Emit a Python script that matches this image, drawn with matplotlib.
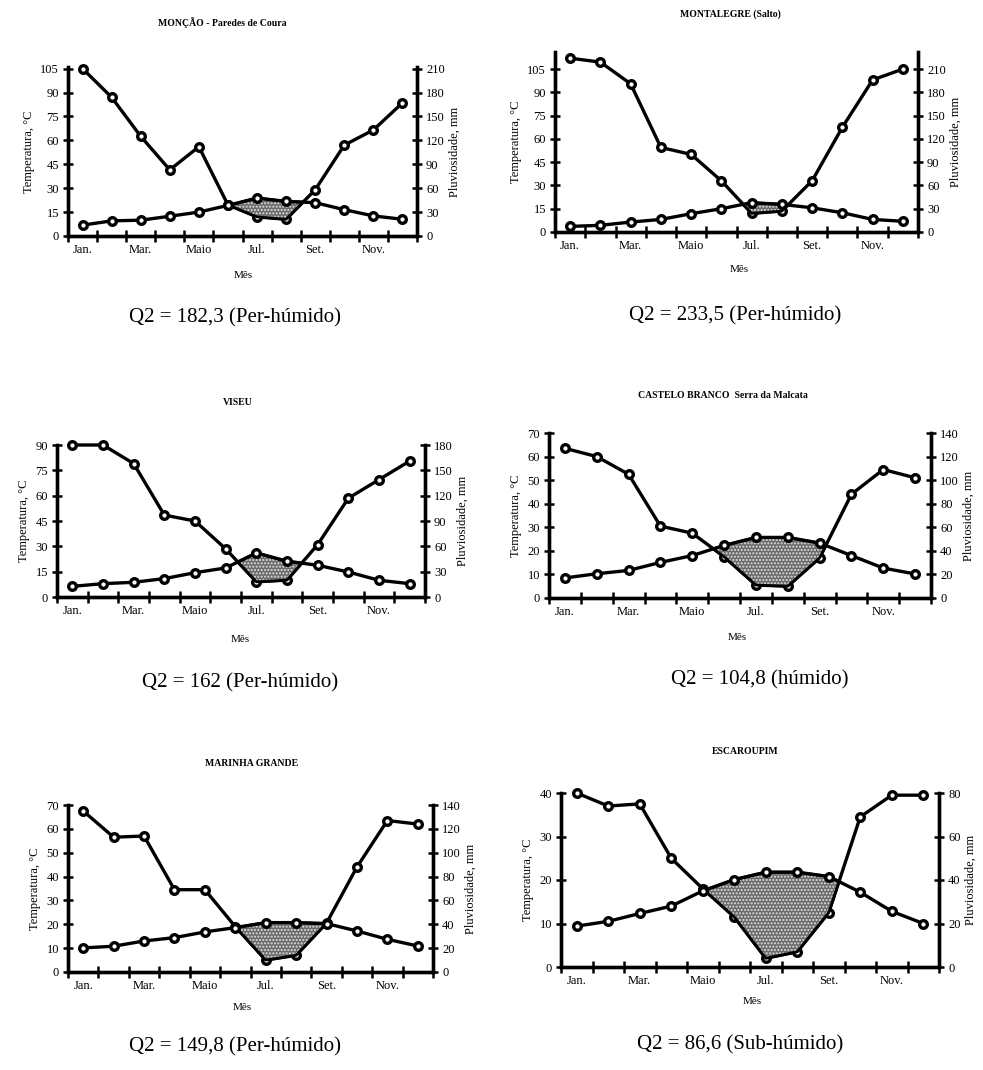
import numpy as np
import matplotlib
matplotlib.use('Agg')
import matplotlib.pyplot as plt

plt.rcParams['font.family'] = ['Liberation Serif', 'DejaVu Serif']
plt.rcParams['hatch.linewidth'] = 1.0

W, H = 983, 1070

meses = ['Jan.', 'Fev.', 'Mar.', 'Abr.', 'Maio', 'Jun.', 'Jul.', 'Ago.', 'Set.', 'Out.', 'Nov.', 'Dez.']

# estações
nomes = ['MONÇÃO - Paredes de Coura', 'MONTALEGRE (Salto)', 'VISEU',
         'CASTELO BRANCO  Serra da Malcata', 'MARINHA GRANDE', 'ESCAROUPIM']
q2_textos = ['Q2 = 182,3 (Per-húmido)', 'Q2 = 233,5 (Per-húmido)', 'Q2 = 162 (Per-húmido)',
             'Q2 = 104,8 (húmido)', 'Q2 = 149,8 (Per-húmido)', 'Q2 = 86,6 (Sub-húmido)']

# temperatura média mensal (ºC)
t_moncao = [6.8, 9.5, 9.9, 12.4, 15.0, 19.2, 23.8, 21.7, 20.9, 16.5, 12.6, 10.5]
t_montalegre = [3.6, 4.3, 6.4, 8.1, 11.8, 15.0, 18.9, 17.8, 15.6, 12.4, 8.1, 6.9]
t_viseu = [6.3, 7.9, 8.7, 10.9, 14.4, 17.2, 26.1, 21.2, 18.8, 14.8, 9.9, 7.9]
t_castelo = [8.5, 10.3, 11.7, 15.1, 18.0, 22.3, 25.7, 25.7, 23.3, 18.0, 12.7, 10.2]
t_marinha = [10.1, 10.8, 13.0, 14.4, 16.8, 18.6, 20.7, 20.7, 20.3, 17.2, 13.7, 10.9]
t_escaroupim = [9.4, 10.5, 12.3, 14.0, 17.5, 20.1, 21.8, 21.8, 20.8, 17.2, 12.8, 10.0]

# pluviosidade mensal (mm)
p_moncao = [210, 174, 125, 83, 112, 39, 24, 21, 58, 114, 133, 167]
p_montalegre = [224, 219, 191, 109, 100, 66, 24, 27, 66, 135, 196, 210]
p_viseu = [180, 180, 158, 97, 90, 57, 18, 20, 62, 117, 139, 161]
p_castelo = [127, 120, 105, 61, 55, 35, 11, 10, 34, 88, 109, 102]
p_marinha = [135, 113, 114, 69, 69, 38, 10, 14, 41, 88, 127, 124]
p_escaroupim = [80, 74, 75, 50, 36, 23, 4, 7, 25, 69, 79, 79]

temps = [t_moncao, t_montalegre, t_viseu, t_castelo, t_marinha, t_escaroupim]
chuvas = [p_moncao, p_montalegre, p_viseu, p_castelo, p_marinha, p_escaroupim]

# escala do eixo de temperatura (topo, passo)
y_topo = [106, 116, 90, 70, 70, 40]
y_max_tick = [105, 105, 90, 70, 70, 40]
y_passo = [15, 15, 15, 10, 10, 10]

# posições em pixeis: esquerda, direita, topo, base
caixas = [(68, 417, 67, 236), (555, 918, 52, 232), (57, 425, 445, 597),
          (549, 931, 433, 598), (68, 433, 805, 972), (561, 939, 793, 967)]
titulo_pos = [(222, 23), (730, 14), (238, 402), (723, 395), (252, 764), (745, 752)]
mes_pos = [(243, 275), (739, 270), (240, 640), (737, 638), (242, 1008), (752, 1002)]
q2_pos = [(235, 318), (735, 316), (240, 683), (760, 680), (235, 1047), (740, 1045)]

fig = plt.figure(figsize=(W / 100, H / 100), dpi=100)


def fx(px):
    return px / W


def fy(py):
    return 1 - py / H


x = np.arange(12) + 0.5
for i in range(6):
    l, r, t, b = caixas[i]
    ax = fig.add_axes([fx(l), fy(b), fx(r - l), (b - t) / H])
    ax2 = ax.twinx()
    T = np.array(temps[i])
    P = np.array(chuvas[i])

    # período seco: P < 2T
    ax.fill_between(x, P / 2, T, where=T > P / 2, interpolate=True,
                    facecolor='#6a6a6a', edgecolor='#e0e0e0', hatch='.....', linewidth=0, zorder=1)
    ax.fill_between(x, P / 2, T, where=T > P / 2, interpolate=True,
                    facecolor='none', edgecolor='black', linewidth=2, zorder=2)

    ax.plot(x, T, color='black', linewidth=2.4, marker='o', markersize=5.5,
            markerfacecolor='white', markeredgecolor='black', markeredgewidth=2.4,
            zorder=3, clip_on=False)
    ax2.plot(x, P, color='black', linewidth=2.4, marker='o', markersize=5.5,
             markerfacecolor='white', markeredgecolor='black', markeredgewidth=2.4,
             zorder=3, clip_on=False)

    ax.set_xlim(0, 12)
    ax.set_ylim(0, y_topo[i])
    ax2.set_ylim(0, 2 * y_topo[i])
    ax.set_yticks(np.arange(0, y_max_tick[i] + 1, y_passo[i]))
    ax2.set_yticks(np.arange(0, 2 * y_max_tick[i] + 1, 2 * y_passo[i]))
    ax.set_xticks(np.arange(0, 13))
    ax.set_xticklabels([])
    ax.set_xticks(x[::2], minor=True)
    ax.set_xticklabels(meses[::2], minor=True)
    ax.tick_params(axis='x', which='major', direction='inout', length=8, width=1.8)
    ax.tick_params(axis='x', which='minor', length=0, labelsize=9, pad=6)
    ax.tick_params(axis='y', direction='inout', length=7, width=1.8, labelsize=9, pad=3)
    ax2.tick_params(axis='y', direction='inout', length=7, width=1.8, labelsize=9, pad=3)

    for a in (ax, ax2):
        a.spines['top'].set_visible(False)
        for s in ('left', 'right', 'bottom'):
            a.spines[s].set_linewidth(2.4)
    ax.set_zorder(ax2.get_zorder() + 1)
    ax.patch.set_visible(False)

    ax.set_ylabel('Temperatura, °C', fontsize=9, labelpad=4)
    ax2.set_ylabel('Pluviosidade, mm', fontsize=9, labelpad=3)

    fig.text(fx(titulo_pos[i][0]), fy(titulo_pos[i][1]), nomes[i], fontsize=7,
             fontweight='bold', ha='center', va='center')
    fig.text(fx(mes_pos[i][0]), fy(mes_pos[i][1]), 'Mês', fontsize=8, ha='center', va='center')
    fig.text(fx(q2_pos[i][0]), fy(q2_pos[i][1]), q2_textos[i], fontsize=15, ha='center', va='center')

plt.savefig('out.png', dpi=100)
